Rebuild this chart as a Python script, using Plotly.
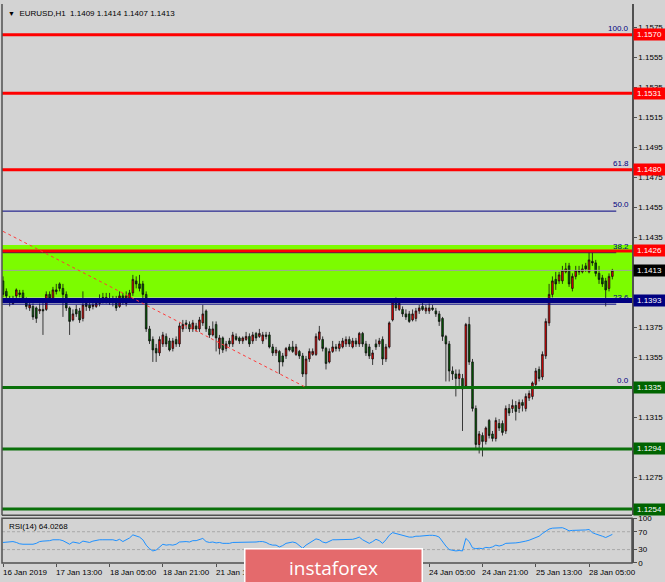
import plotly.graph_objects as go

# ---------------- data ----------------
bars = list(range(184))

opens = [
    1.1406, 1.1399, 1.1394, 1.1391, 1.1396, 1.1398, 1.1398, 1.1394, 1.1388, 1.1389,
    1.1388, 1.1386, 1.1387, 1.1387, 1.1397, 1.1394, 1.1400, 1.1404, 1.1401, 1.1397,
    1.1388, 1.1380, 1.1387, 1.1386, 1.1381, 1.1391, 1.1390, 1.1389, 1.1389, 1.1391,
    1.1395, 1.1393, 1.1394, 1.1394, 1.1394, 1.1389, 1.1396, 1.1391, 1.1394, 1.1398,
    1.1406, 1.1404, 1.1404, 1.1397, 1.1374, 1.1367, 1.1361, 1.1358, 1.1364, 1.1369,
    1.1366, 1.1361, 1.1367, 1.1364, 1.1374, 1.1378, 1.1377, 1.1374, 1.1376, 1.1374,
    1.1378, 1.1386, 1.1374, 1.1370, 1.1377, 1.1361, 1.1368, 1.1361, 1.1366, 1.1364,
    1.1369, 1.1368, 1.1366, 1.1367, 1.1369, 1.1366, 1.1371, 1.1369, 1.1366, 1.1370,
    1.1370, 1.1362, 1.1358, 1.1359, 1.1356, 1.1356, 1.1362, 1.1362, 1.1357, 1.1359,
    1.1356, 1.1344, 1.1354, 1.1357, 1.1357, 1.1367, 1.1367, 1.1361, 1.1352, 1.1359,
    1.1362, 1.1361, 1.1362, 1.1364, 1.1367, 1.1362, 1.1366, 1.1364, 1.1371, 1.1364,
    1.1362, 1.1354, 1.1364, 1.1364, 1.1367, 1.1354, 1.1362, 1.1380, 1.1392, 1.1387,
    1.1387, 1.1384, 1.1384, 1.1380, 1.1381, 1.1386, 1.1389, 1.1386, 1.1386, 1.1388,
    1.1386, 1.1384, 1.1381, 1.1369, 1.1364, 1.1346, 1.1344, 1.1341, 1.1341, 1.1336,
    1.1377, 1.1352, 1.1321, 1.1297, 1.1303, 1.1299, 1.1313, 1.1304, 1.1301, 1.1311,
    1.1311, 1.1306, 1.1321, 1.1321, 1.1323, 1.1321, 1.1325, 1.1321, 1.1328, 1.1329,
    1.1337, 1.1347, 1.1342, 1.1356, 1.1378, 1.1397, 1.1407, 1.1406, 1.1406, 1.1412,
    1.1416, 1.1401, 1.1409, 1.1413, 1.1412, 1.1416, 1.1412, 1.1419, 1.1418, 1.1411,
    1.1408, 1.1406, 1.1401, 1.1409,
]
highs = [
    1.1409, 1.1401, 1.1396, 1.1396, 1.1401, 1.1400, 1.1400, 1.1395, 1.1392, 1.1391,
    1.1389, 1.1391, 1.1392, 1.1399, 1.1399, 1.1402, 1.1404, 1.1405, 1.1404, 1.1399,
    1.1389, 1.1387, 1.1390, 1.1388, 1.1399, 1.1394, 1.1392, 1.1392, 1.1394, 1.1397,
    1.1398, 1.1398, 1.1398, 1.1396, 1.1396, 1.1399, 1.1398, 1.1399, 1.1400, 1.1410,
    1.1409, 1.1410, 1.1406, 1.1399, 1.1376, 1.1369, 1.1364, 1.1369, 1.1372, 1.1371,
    1.1368, 1.1368, 1.1369, 1.1378, 1.1380, 1.1380, 1.1379, 1.1380, 1.1378, 1.1382,
    1.1390, 1.1387, 1.1376, 1.1379, 1.1379, 1.1370, 1.1369, 1.1366, 1.1368, 1.1372,
    1.1371, 1.1369, 1.1369, 1.1372, 1.1371, 1.1372, 1.1372, 1.1374, 1.1372, 1.1372,
    1.1372, 1.1364, 1.1362, 1.1360, 1.1358, 1.1362, 1.1364, 1.1366, 1.1364, 1.1360,
    1.1358, 1.1356, 1.1361, 1.1361, 1.1371, 1.1376, 1.1369, 1.1362, 1.1361, 1.1366,
    1.1364, 1.1366, 1.1368, 1.1369, 1.1369, 1.1368, 1.1368, 1.1372, 1.1372, 1.1366,
    1.1364, 1.1360, 1.1367, 1.1368, 1.1369, 1.1364, 1.1379, 1.1394, 1.1395, 1.1394,
    1.1389, 1.1387, 1.1386, 1.1387, 1.1388, 1.1390, 1.1392, 1.1390, 1.1391, 1.1390,
    1.1388, 1.1386, 1.1382, 1.1370, 1.1366, 1.1349, 1.1347, 1.1347, 1.1344, 1.1378,
    1.1382, 1.1354, 1.1323, 1.1306, 1.1305, 1.1309, 1.1314, 1.1306, 1.1315, 1.1314,
    1.1313, 1.1323, 1.1324, 1.1327, 1.1326, 1.1327, 1.1327, 1.1331, 1.1333, 1.1339,
    1.1348, 1.1349, 1.1359, 1.1381, 1.1404, 1.1409, 1.1412, 1.1412, 1.1416, 1.1418,
    1.1418, 1.1411, 1.1416, 1.1416, 1.1417, 1.1418, 1.1425, 1.1425, 1.1420, 1.1416,
    1.1410, 1.1408, 1.1411, 1.1414,
]
lows = [
    1.1395, 1.1392, 1.1389, 1.1390, 1.1394, 1.1395, 1.1392, 1.1387, 1.1386, 1.1380,
    1.1378, 1.1384, 1.1370, 1.1386, 1.1392, 1.1392, 1.1397, 1.1399, 1.1382, 1.1386,
    1.1370, 1.1379, 1.1382, 1.1378, 1.1379, 1.1386, 1.1386, 1.1387, 1.1388, 1.1389,
    1.1391, 1.1391, 1.1390, 1.1389, 1.1386, 1.1388, 1.1390, 1.1389, 1.1392, 1.1396,
    1.1401, 1.1399, 1.1394, 1.1372, 1.1364, 1.1352, 1.1352, 1.1356, 1.1362, 1.1362,
    1.1359, 1.1359, 1.1362, 1.1362, 1.1372, 1.1374, 1.1372, 1.1372, 1.1372, 1.1372,
    1.1376, 1.1372, 1.1368, 1.1369, 1.1359, 1.1357, 1.1358, 1.1359, 1.1362, 1.1362,
    1.1366, 1.1364, 1.1364, 1.1366, 1.1362, 1.1364, 1.1366, 1.1368, 1.1364, 1.1367,
    1.1361, 1.1356, 1.1356, 1.1344, 1.1349, 1.1354, 1.1359, 1.1358, 1.1356, 1.1354,
    1.1342, 1.1335, 1.1352, 1.1356, 1.1356, 1.1366, 1.1359, 1.1347, 1.1351, 1.1358,
    1.1359, 1.1359, 1.1361, 1.1362, 1.1362, 1.1361, 1.1362, 1.1362, 1.1362, 1.1356,
    1.1354, 1.1350, 1.1360, 1.1362, 1.1350, 1.1352, 1.1361, 1.1379, 1.1386, 1.1386,
    1.1382, 1.1380, 1.1378, 1.1379, 1.1379, 1.1384, 1.1386, 1.1384, 1.1384, 1.1386,
    1.1382, 1.1376, 1.1366, 1.1339, 1.1339, 1.1340, 1.1329, 1.1336, 1.1306, 1.1334,
    1.1350, 1.1319, 1.1294, 1.1291, 1.1289, 1.1297, 1.1301, 1.1299, 1.1299, 1.1306,
    1.1303, 1.1304, 1.1316, 1.1318, 1.1313, 1.1318, 1.1319, 1.1319, 1.1326, 1.1327,
    1.1336, 1.1339, 1.1340, 1.1354, 1.1376, 1.1395, 1.1400, 1.1404, 1.1404, 1.1411,
    1.1402, 1.1399, 1.1407, 1.1410, 1.1411, 1.1412, 1.1411, 1.1416, 1.1409, 1.1404,
    1.1402, 1.1389, 1.1399, 1.1407,
]
closes = [
    1.1397, 1.1396, 1.1392, 1.1394, 1.1400, 1.1397, 1.1394, 1.1389, 1.1390, 1.1382,
    1.1381, 1.1387, 1.1386, 1.1397, 1.1394, 1.1400, 1.1399, 1.1401, 1.1397, 1.1388,
    1.1379, 1.1384, 1.1384, 1.1380, 1.1390, 1.1389, 1.1388, 1.1390, 1.1391, 1.1394,
    1.1394, 1.1395, 1.1393, 1.1392, 1.1388, 1.1396, 1.1392, 1.1396, 1.1398, 1.1407,
    1.1404, 1.1401, 1.1397, 1.1374, 1.1366, 1.1360, 1.1358, 1.1367, 1.1370, 1.1364,
    1.1360, 1.1366, 1.1364, 1.1376, 1.1377, 1.1377, 1.1374, 1.1378, 1.1374, 1.1380,
    1.1384, 1.1374, 1.1370, 1.1374, 1.1368, 1.1368, 1.1360, 1.1364, 1.1364, 1.1370,
    1.1367, 1.1366, 1.1368, 1.1369, 1.1364, 1.1370, 1.1368, 1.1371, 1.1370, 1.1369,
    1.1362, 1.1358, 1.1360, 1.1352, 1.1352, 1.1361, 1.1360, 1.1359, 1.1362, 1.1356,
    1.1344, 1.1354, 1.1359, 1.1359, 1.1369, 1.1372, 1.1361, 1.1351, 1.1359, 1.1362,
    1.1361, 1.1364, 1.1366, 1.1367, 1.1364, 1.1366, 1.1364, 1.1371, 1.1364, 1.1358,
    1.1356, 1.1358, 1.1362, 1.1366, 1.1354, 1.1362, 1.1378, 1.1392, 1.1388, 1.1391,
    1.1384, 1.1382, 1.1379, 1.1384, 1.1386, 1.1388, 1.1387, 1.1388, 1.1388, 1.1387,
    1.1384, 1.1379, 1.1369, 1.1364, 1.1346, 1.1344, 1.1341, 1.1344, 1.1334, 1.1377,
    1.1352, 1.1321, 1.1297, 1.1304, 1.1299, 1.1308, 1.1303, 1.1301, 1.1313, 1.1308,
    1.1305, 1.1321, 1.1318, 1.1323, 1.1319, 1.1325, 1.1323, 1.1329, 1.1331, 1.1338,
    1.1346, 1.1341, 1.1357, 1.1379, 1.1397, 1.1406, 1.1404, 1.1410, 1.1413, 1.1414,
    1.1404, 1.1409, 1.1413, 1.1412, 1.1414, 1.1414, 1.1420, 1.1418, 1.1411, 1.1407,
    1.1404, 1.1400, 1.1409, 1.1413,
]
rsi = [
    46, 47, 47, 48, 46, 43, 42, 42, 43, 42,
    44, 48, 49, 49, 50, 52, 52, 52, 50, 45,
    42, 47, 46, 44, 49, 47, 46, 49, 51, 52,
    52, 52, 52, 52, 50, 53, 48, 52, 56, 63,
    61, 58, 52, 40, 32, 27, 29, 36, 42, 40,
    41, 40, 42, 47, 48, 48, 47, 50, 50, 53,
    55, 48, 46, 47, 45, 46, 44, 44, 44, 46,
    46, 47, 47, 47, 46, 47, 47, 48, 48, 46,
    42, 40, 40, 36, 39, 44, 46, 47, 45, 40,
    33, 40, 45, 50, 54, 52, 47, 45, 49, 52,
    52, 52, 52, 53, 52, 53, 55, 58, 52, 47,
    44, 48, 53, 50, 44, 52, 62, 68, 66, 64,
    61, 60, 58, 58, 60, 60, 61, 61, 62, 62,
    61, 58, 47, 38, 30, 28, 27, 28, 27, 55,
    48, 34, 32, 33, 32, 35, 34, 36, 40, 38,
    40, 44, 44, 44, 45, 46, 47, 49, 51, 54,
    57, 60, 66, 72, 76, 78, 78, 79, 79, 76,
    72, 73, 73, 73, 73, 74, 75, 68, 65, 63,
    60, 57, 61, 64.0268,
]

tick_bars = [0, 16, 32, 48, 64, 80, 96, 112, 128, 144, 160, 176]
tick_labels = ["16 Jan 2019", "17 Jan 13:00", "18 Jan 05:00", "18 Jan 21:00",
               "21 Jan 13:00", "22 Jan 05:00", "22 Jan 21:00", "23 Jan 13:00",
               "24 Jan 05:00", "24 Jan 21:00", "25 Jan 13:00", "28 Jan 05:00"]

price_ticks = [1.1255, 1.1275, 1.1295, 1.1315, 1.1335, 1.1355, 1.1375, 1.1395,
               1.1415, 1.1435, 1.1455, 1.1475, 1.1495, 1.1515, 1.1535, 1.1555, 1.1575]
rsi_ticks = [0, 30, 70, 100]

red_levels = [1.1570, 1.1531, 1.1480, 1.1426]
navy_levels = [1.1393]
green_levels = [1.1335, 1.1294, 1.1254]
fib_levels = [1.1335, 1.13905, 1.14248, 1.14525, 1.14802, 1.1570]
fib_labels = ["0.0", "23.6", "38.2", "50.0", "61.8", "100.0"]
zone = [1.1395, 1.1430]
trend_bars = [0, 91]
trend_prices = [1.1439, 1.1335]

title_text = "EURUSD,H1&nbsp;&nbsp;1.1409 1.1414 1.1407 1.1413"
rsi_text = "RSI(14) 64.0268"

# ---------------- styling ----------------
BG = "#d3d3d3"
FONT = "Liberation Sans"
FS = 8
RED = "#ff0000"
NAVY = "#000080"
GREEN = "#0a700a"
FRAME = "#505050"

fig = go.Figure()
fig.add_trace(go.Candlestick(
    x=bars, open=opens, high=highs, low=lows, close=closes,
    increasing=dict(fillcolor="#ff0000", line=dict(color="#101010", width=0.8)),
    decreasing=dict(fillcolor="#006400", line=dict(color="#101010", width=0.8)),
    whiskerwidth=0, xaxis="x", yaxis="y", hoverinfo="skip", showlegend=False,
))
fig.add_trace(go.Scatter(
    x=bars, y=rsi, mode="lines", line=dict(color="#1e90ff", width=1),
    xaxis="x", yaxis="y2", hoverinfo="skip", showlegend=False,
))

shapes = []
shapes.append(dict(type="rect", xref="paper", yref="y", x0=0, x1=1, y0=zone[0], y1=zone[1],
                   fillcolor="#7cfc00", line=dict(width=0), layer="below"))
shapes.append(dict(type="line", xref="paper", yref="y", x0=0, x1=1, y0=closes[-1], y1=closes[-1],
                   line=dict(color="#a0a0a0", width=1), layer="above"))
for lv in fib_levels:
    shapes.append(dict(type="line", xref="paper", yref="y", x0=0, x1=0.975, y0=lv, y1=lv,
                       line=dict(color=NAVY, width=1), layer="above"))
for lv in red_levels:
    shapes.append(dict(type="line", xref="paper", yref="y", x0=0, x1=1, y0=lv, y1=lv,
                       line=dict(color=RED, width=3), layer="above"))
for lv in navy_levels:
    shapes.append(dict(type="line", xref="paper", yref="y", x0=0, x1=1, y0=lv, y1=lv,
                       line=dict(color=NAVY, width=5), layer="above"))
for lv in green_levels:
    shapes.append(dict(type="line", xref="paper", yref="y", x0=0, x1=1, y0=lv, y1=lv,
                       line=dict(color=GREEN, width=3), layer="above"))
shapes.append(dict(type="line", xref="x", yref="y", x0=trend_bars[0], x1=trend_bars[1],
                   y0=trend_prices[0], y1=trend_prices[1],
                   line=dict(color="#ff3a3a", width=1, dash="3px,3px"), layer="above"))
for lv in [30, 70]:
    shapes.append(dict(type="line", xref="paper", yref="y2", x0=0, x1=1, y0=lv, y1=lv,
                       line=dict(color="#a8a8a8", width=1, dash="3px,2px"), layer="below"))
shapes.append(dict(type="line", xref="paper", yref="y domain", x0=0, x1=0, y0=0, y1=1,
                   line=dict(color=FRAME, width=1.5), layer="above"))
shapes.append(dict(type="line", xref="paper", yref="y domain", x0=0, x1=1, y0=0, y1=0,
                   line=dict(color=FRAME, width=1.5), layer="above"))
shapes.append(dict(type="rect", xref="paper", yref="y2 domain", x0=0, x1=1, y0=0, y1=1,
                   line=dict(color=FRAME, width=1.5), layer="above"))

annotations = []
annotations.append(dict(xref="paper", yref="paper", x=0, y=1, xanchor="left", yanchor="top",
                        xshift=4, yshift=-3, showarrow=False,
                        text="<span style='font-size:7px'>▼</span>&nbsp;&nbsp;" + title_text,
                        font=dict(family=FONT, size=FS, color="#000000")))
annotations.append(dict(xref="paper", yref="y2 domain", x=0, y=1, xanchor="left", yanchor="top",
                        xshift=5, yshift=-2, showarrow=False, text=rsi_text,
                        font=dict(family=FONT, size=FS, color="#000000")))
for lv, lab in zip(fib_levels, fib_labels):
    annotations.append(dict(xref="paper", yref="y", x=1, y=lv, xanchor="right", yanchor="bottom",
                            xshift=-1, yshift=0, showarrow=False, text=lab,
                            font=dict(family=FONT, size=FS, color=NAVY)))

def price_box(lv, color):
    return dict(xref="paper", yref="y", x=1, y=lv, xanchor="left", yanchor="middle",
                xshift=1, showarrow=False, text=f"{lv:.4f}", bgcolor=color,
                borderpad=1, width=29, align="center",
                font=dict(family=FONT, size=FS, color="#ffffff"))

for lv in red_levels:
    annotations.append(price_box(lv, RED))
annotations.append(price_box(closes[-1], "#000000"))
for lv in navy_levels:
    annotations.append(price_box(lv, NAVY))
for lv in green_levels:
    annotations.append(price_box(lv, "#006400"))

for b, lab in zip(tick_bars, tick_labels):
    annotations.append(dict(xref="x", yref="paper", x=b, y=0, xanchor="left", yanchor="top",
                            xshift=-2, yshift=-3, showarrow=False, text=lab,
                            font=dict(family=FONT, size=FS, color="#000000")))

annotations.append(dict(xref="paper", yref="paper", x=(333.5 - 2) / 630, y=(563 - 568) / 563,
                        xanchor="center", yanchor="middle", showarrow=False,
                        text="instaforex", width=176, height=36, bgcolor="#e46a6c",
                        bordercolor="#ffffff", borderwidth=1.5, borderpad=0,
                        font=dict(family="Open Sans", size=19, color="#ffffff")))

fig.update_layout(
    width=665, height=582,
    margin=dict(l=2, r=33, t=0, b=19),
    paper_bgcolor=BG, plot_bgcolor=BG,
    showlegend=False,
    xaxis=dict(range=[-0.3, 188.9], anchor="y2", tickvals=tick_bars, showticklabels=False,
               ticks="outside", ticklen=3, tickcolor=FRAME, showgrid=False, zeroline=False,
               showline=False, rangeslider=dict(visible=False), fixedrange=True),
    yaxis=dict(domain=[0.0853, 1], range=[1.12498, 1.15905], side="right", anchor="x",
               tickvals=price_ticks, ticktext=[f"{v:.4f}" for v in price_ticks],
               ticks="outside", ticklen=3, tickcolor=FRAME, showgrid=False, zeroline=False,
               showline=True, linecolor=FRAME, linewidth=1.5,
               tickfont=dict(family=FONT, size=FS, color="#000000")),
    yaxis2=dict(domain=[0, 0.0799], range=[0, 100], side="right", anchor="x",
                tickvals=rsi_ticks, ticktext=[str(v) for v in rsi_ticks],
                ticks="outside", ticklen=3, tickcolor=FRAME, showgrid=False, zeroline=False,
                showline=True, linecolor=FRAME, linewidth=1.5,
                tickfont=dict(family=FONT, size=FS, color="#000000")),
    shapes=shapes,
    annotations=annotations,
)

fig.write_html(
    "out.html",
    config={"displayModeBar": False},
    post_script="document.body.style.margin='0';document.body.style.padding='0';"
                "document.body.style.background='#d3d3d3';document.body.style.overflow='hidden';",
)
